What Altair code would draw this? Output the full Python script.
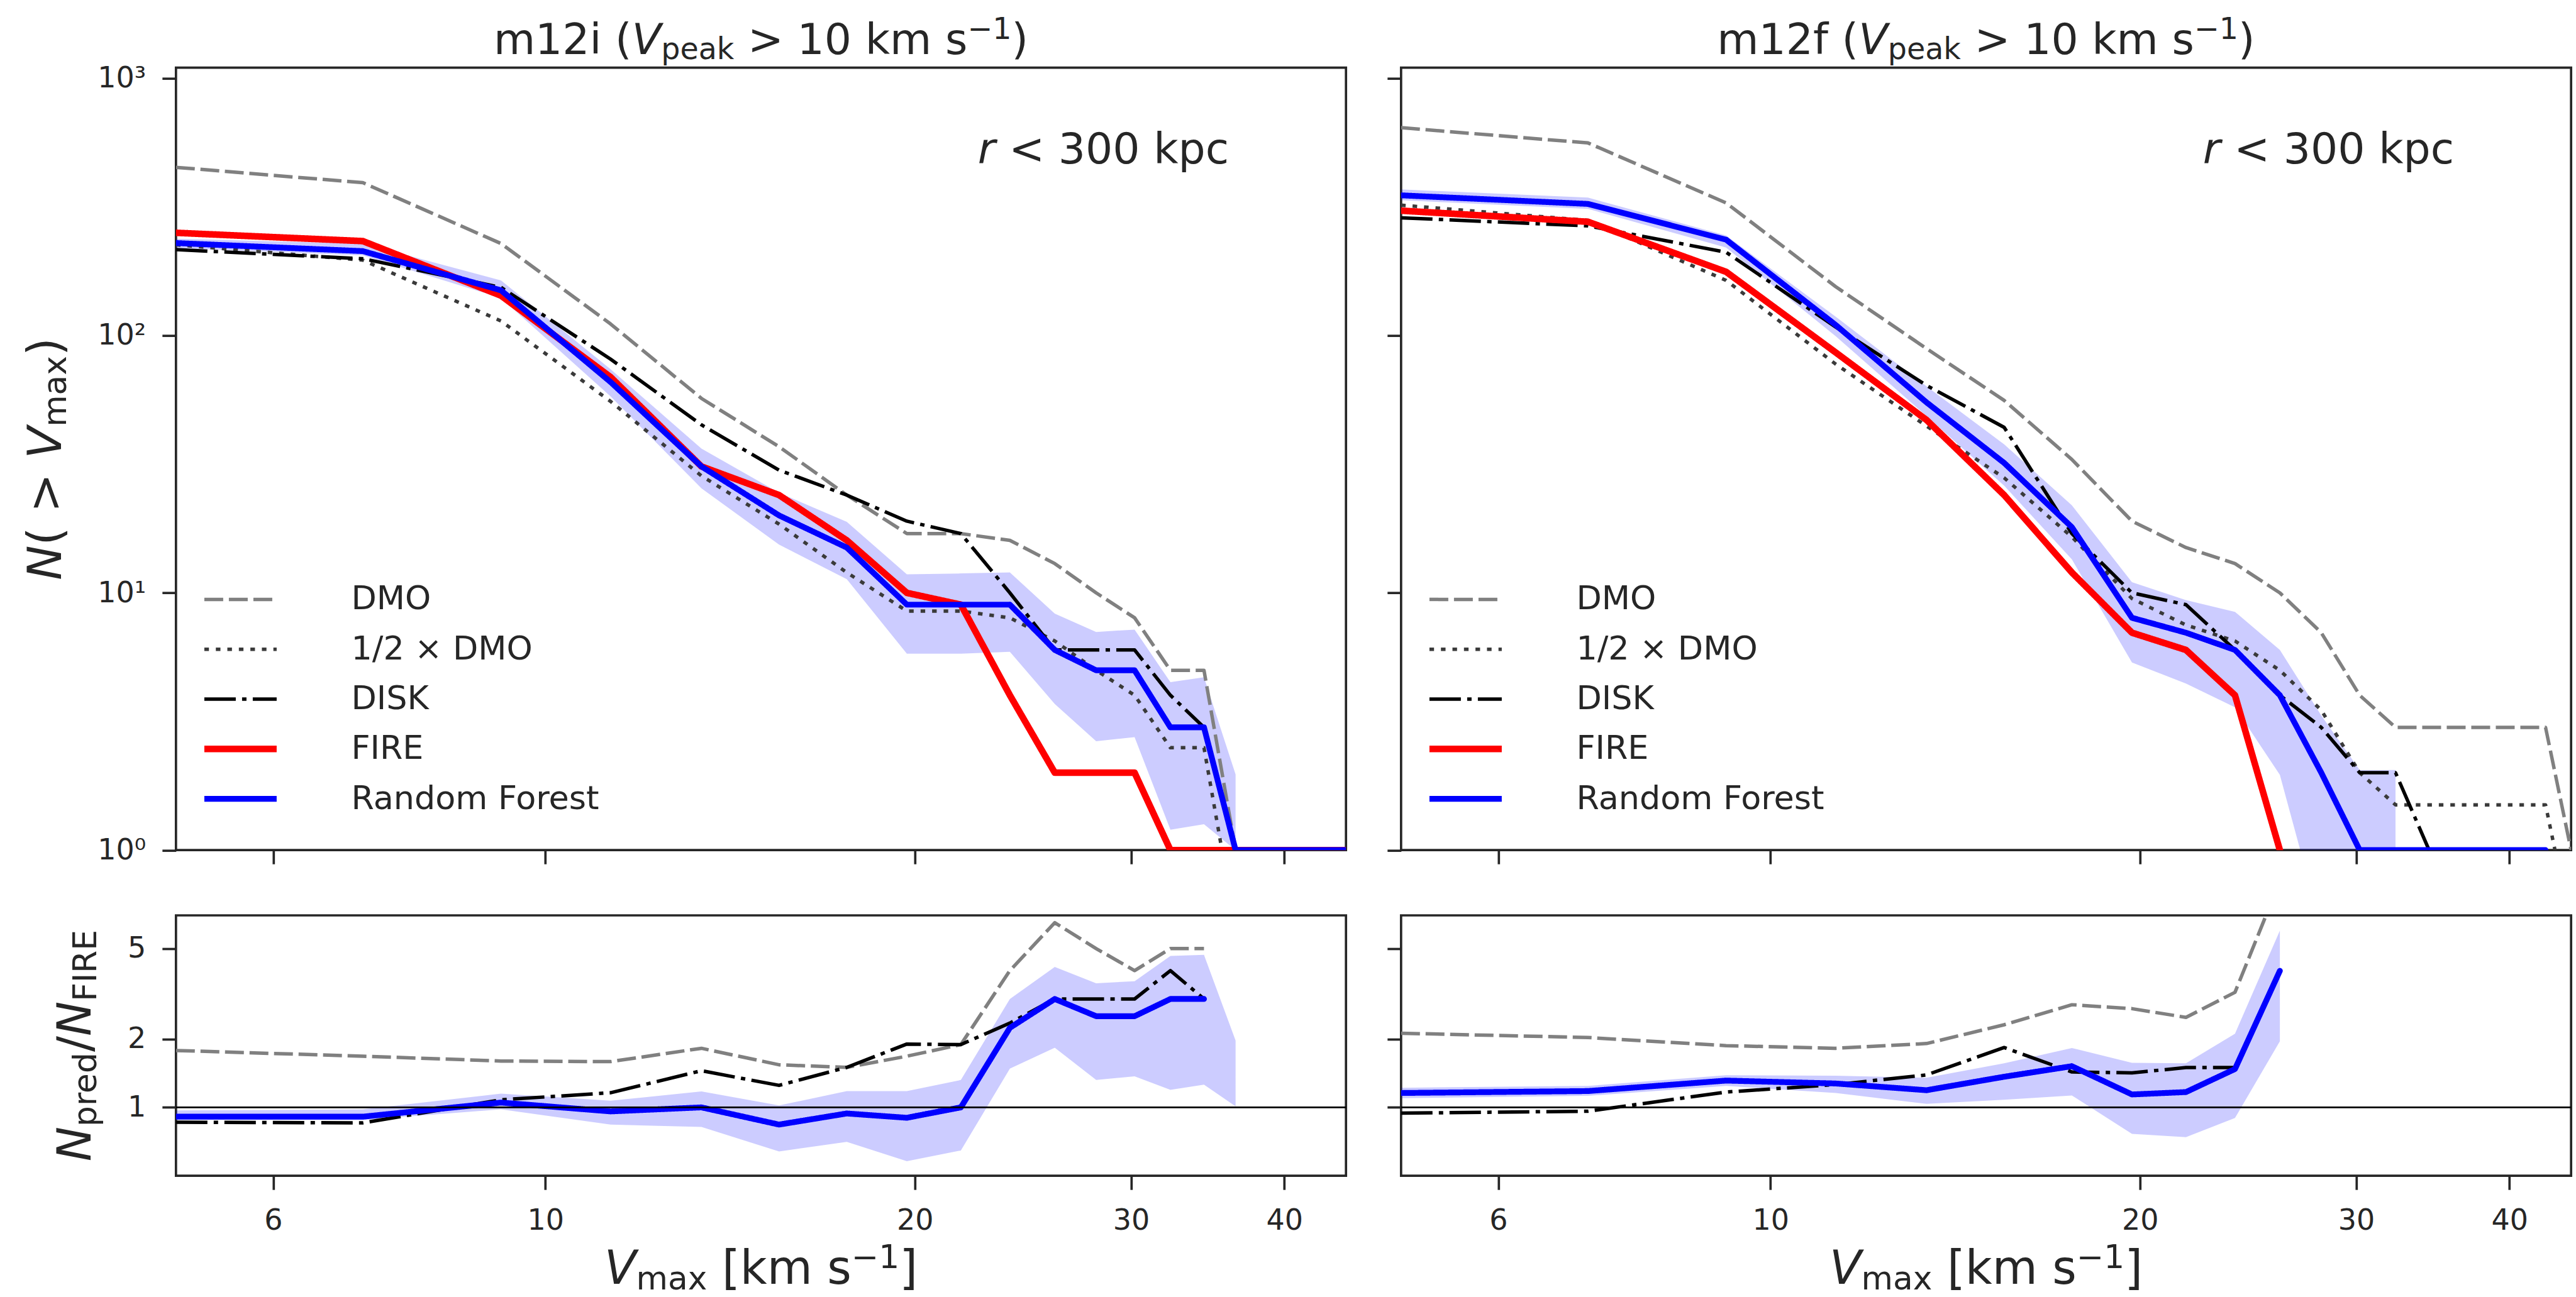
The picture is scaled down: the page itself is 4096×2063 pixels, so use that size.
import altair as alt
import pandas as pd

# ---------------- data ----------------
V = [5.0, 7.1, 9.2, 11.3, 13.4, 15.5, 17.6, 19.7, 21.8, 23.9, 26.0, 28.1, 30.2,
     32.3, 34.4, 36.5, 38.6, 40.7, 42.8, 44.9]

SERIES = ["DMO", "1/2 × DMO", "DISK", "FIRE", "Random Forest"]

# m12i, N(>Vmax)
M12I_DMO = [451, 393, 228, 111, 57, 37, 24, 17, 17, 16, 13, 10, 8, 5, 5, 1]
M12I_HALF = [225.5, 196.5, 114, 55.5, 28.5, 18.5, 12, 8.5, 8.5, 8, 6.5, 5, 4, 2.5, 2.5, 0.5]
M12I_DISK = [216, 199, 154, 81, 45, 30, 24, 19, 17, 10, 6, 6, 6, 4, 3, 1]
M12I_FIRE = [251, 233, 143, 69, 31, 24, 16, 10, 9, 4, 2, 2, 2, 1, 1, 1, 1, 1, 1, 1]
M12I_RF = [229, 213, 150, 66, 31, 20, 15, 9, 9, 9, 6, 5, 5, 3, 3, 1, 1, 1, 1, 1]
M12I_RF_LO = [219, 205, 140, 58, 25.5, 15.4, 11.3, 5.8, 5.8, 5.9, 3.7, 2.65, 2.75, 1.2, 1.26, 1.0]
M12I_RF_HI = [238, 228, 164, 74, 36.4, 24.5, 18.9, 11.8, 11.9, 12, 8.3, 7.05, 7.2, 4.5, 4.7, 1.97]

# m12f, N(>Vmax)
M12F_DMO = [643, 561, 328, 155, 89, 56, 33, 19, 15, 13, 10, 7, 4, 3, 3, 3, 3, 3, 3, 1]
M12F_HALF = [321.5, 280.5, 164, 77.5, 44.5, 28, 16.5, 9.5, 7.5, 6.5, 5, 3.5, 2, 1.5, 1.5, 1.5, 1.5, 1.5, 1.5, 0.5]
M12F_DISK = [287, 267, 211, 108, 64, 44, 17, 10, 9, 6, 4, 3, 2, 2, 1]
M12F_FIRE = [306, 277, 177, 86, 47, 24, 12, 7, 6, 4, 1]
M12F_RF = [351, 325, 236, 110, 55, 32, 18, 8, 7, 6, 4, 2, 1, 1, 1, 1, 1, 1, 1]
M12F_RF_LO = [336, 311, 220, 99.5, 48.7, 26.1, 13.5, 5.36, 4.44, 3.59, 1.96, 0.5, 0.5, 0.5]
M12F_RF_HI = [370, 344, 245, 118.5, 63.5, 37.8, 21.9, 11.0, 9.38, 8.44, 6.0, 3.34, 2.05, 2.05]

# m12i, N_pred / N_FIRE
R12I_DMO = [1.78, 1.68, 1.60, 1.59, 1.82, 1.54, 1.50, 1.68, 1.89, 4.0, 6.5, 5.0, 4.0, 5.0, 5.0]
R12I_DISK = [0.86, 0.855, 1.08, 1.16, 1.45, 1.25, 1.50, 1.90, 1.89, 2.35, 3.0, 3.0, 3.0, 4.0, 3.0]
R12I_RF = [0.91, 0.91, 1.05, 0.96, 1.0, 0.84, 0.94, 0.90, 1.0, 2.24, 3.0, 2.52, 2.52, 3.0, 3.0]
R12I_LO = [0.88, 0.88, 0.98, 0.84, 0.82, 0.64, 0.705, 0.58, 0.646, 1.48, 1.83, 1.32, 1.37, 1.195, 1.26, 1.01]
R12I_HI = [0.97, 0.98, 1.15, 1.07, 1.175, 1.02, 1.18, 1.18, 1.32, 3.0, 4.15, 3.52, 3.59, 4.64, 4.69, 1.97]

# m12f, N_pred / N_FIRE
R12F_DMO = [2.12, 2.03, 1.87, 1.82, 1.91, 2.31, 2.83, 2.72, 2.49, 3.21, 9.9]
R12F_DISK = [0.943, 0.962, 1.168, 1.26, 1.39, 1.834, 1.432, 1.419, 1.497, 1.497]
R12F_RF = [1.157, 1.18, 1.312, 1.274, 1.19, 1.364, 1.518, 1.14, 1.168, 1.475, 3.99]
R12F_LO = [1.098, 1.124, 1.243, 1.157, 1.036, 1.08, 1.128, 0.765, 0.74, 0.898, 1.955]
R12F_HI = [1.22, 1.243, 1.386, 1.378, 1.35, 1.563, 1.826, 1.572, 1.563, 2.11, 6.0]

X_TICKS = [6, 10, 20, 30, 40]
Y_TICKS_TOP = [1, 10, 100, 1000]
Y_TICKS_BOT = [1, 2, 5]

# ---------------- styles ----------------
FONT = "DejaVu Sans"
TXT = "#262626"
COLORS = ["#808080", "#3a3a3a", "#000000", "#ff0000", "#0000ff"]
DASHES = [[30, 9], [7.3, 11], [50, 10, 7, 10], [1, 0], [1, 0]]
WIDTHS = [5.5, 5.5, 5.5, 10.5, 9.2]
CAPS = ["butt", "butt", "butt", "round", "round"]

W = 1860.4
HT = 1244.5
HB = 414.2
F_TITLE = 68
F_AX = 74
F_TICK = 46
F_LEG = 52.4

XS = alt.Scale(type="log", domain=[5, 44.9], nice=False)
YT = alt.Scale(type="log", domain=[1, 1100], nice=False)
YB = alt.Scale(type="log", domain=[0.5, 7], nice=False)

common_axis = dict(grid=False, domain=False, title=None, labelFlush=False, labelOverlap=False)
AX_X_TOP = alt.Axis(values=X_TICKS, labels=False, **common_axis)
AX_X_BOT = alt.Axis(values=X_TICKS, format="d", labelPadding=27, **common_axis)
AX_Y_TOP_L = alt.Axis(values=Y_TICKS_TOP, labelPadding=26,
                      labelExpr="datum.value == 1 ? '10⁰' : datum.value == 10 ? '10¹' : datum.value == 100 ? '10²' : '10³'",
                      **common_axis)
AX_Y_TOP_R = alt.Axis(values=Y_TICKS_TOP, labels=False, **common_axis)
AX_Y_BOT_L = alt.Axis(values=Y_TICKS_BOT, format="d", labelPadding=26, **common_axis)
AX_Y_BOT_R = alt.Axis(values=Y_TICKS_BOT, labels=False, **common_axis)

SYM_W = "datum.value === 'FIRE' ? 10.5 : (datum.value === 'Random Forest' ? 9.2 : 5.5)"
LEG = alt.Legend(orient="none", legendX=76.4, legendY=819.5, direction="vertical", title=None,
                 symbolType="stroke", symbolSize=13225, labelFontSize=F_LEG, labelFont=FONT,
                 labelColor=TXT, labelOffset=149.8, labelLimit=3000, rowPadding=26.3, padding=0,
                 symbolStrokeWidth={"expr": SYM_W})

# DejaVu Sans advance widths (em)
WEM = {" ": 0.3179, "(": 0.3901, ")": 0.3901, "[": 0.3901, "]": 0.3901, "/": 0.3369,
       "<": 0.8379, ">": 0.8379, "−": 0.8379, "a": 0.6128, "c": 0.5498, "d": 0.6348,
       "e": 0.6152, "f": 0.3521, "i": 0.2778, "k": 0.5791, "m": 0.9741, "p": 0.6348,
       "r": 0.4111, "s": 0.5210, "x": 0.5918, "E": 0.6318, "F": 0.5752, "I": 0.2949,
       "N": 0.7480, "R": 0.6948, "V": 0.6841}
for d in "0123456789":
    WEM[d] = 0.6362


def wem(s):
    return sum(WEM.get(ch, 0.6) for ch in s)


def rich(pieces, F, anchor, base, angle=0, align="center"):
    total = sum(wem(t) * F * sc for t, it, sc, sh in pieces)
    pos = -total / 2 if align == "center" else (-total if align == "right" else 0)
    rows = []
    for t, it, sc, sh in pieces:
        fs = F * sc
        lead = len(t) - len(t.lstrip(" "))
        core = t.strip(" ")
        p0 = pos + lead * WEM[" "] * fs
        if angle == 0:
            rows.append({"px": anchor + p0, "py": base - sh * F, "txt": core, "fs": fs, "it": it})
        else:
            rows.append({"px": base - sh * F, "py": anchor - p0, "txt": core, "fs": fs, "it": it})
        pos += wem(t) * fs
    return rows


def text_layers(rows, angle=0):
    out = []
    for it in (False, True):
        sub = [r for r in rows if r["it"] == it]
        if not sub:
            continue
        df = pd.DataFrame(sub)
        out.append(
            alt.Chart(df).mark_text(align="left", baseline="alphabetic", angle=angle, font=FONT,
                                    fontStyle="italic" if it else "normal", color=TXT)
            .encode(x=alt.X("px:Q", scale=None, axis=None),
                    y=alt.Y("py:Q", scale=None, axis=None),
                    text=alt.Text("txt:N"),
                    size=alt.Size("fs:Q", scale=None, legend=None))
        )
    return out


def col_title(name):
    return [(name + " (", False, 1, 0), ("V", True, 1, 0), ("peak", False, 0.7, -0.12),
            (" > 10 km s", False, 1, 0), ("−1", False, 0.7, 0.35), (")", False, 1, 0)]


Y_TITLE_TOP = [("N", True, 1, 0), ("( > ", False, 1, 0), ("V", True, 1, 0),
               ("max", False, 0.7, -0.12), (")", False, 1, 0)]
Y_TITLE_BOT = [("N", True, 1, 0), ("pred", False, 0.7, -0.12), ("/", False, 1, 0),
               ("N", True, 1, 0), ("FIRE", False, 0.7, -0.12)]
X_TITLE = [("V", True, 1, 0), ("max", False, 0.7, -0.12), (" [km s", False, 1, 0),
           ("−1", False, 0.7, 0.35), ("]", False, 1, 0)]
R_TEXT = [("r", True, 1, 0), (" < 300 kpc", False, 1, 0)]


def top_panel(name, dmo, half, disk, fire, rf, lo, hi, left):
    yax = AX_Y_TOP_L if left else AX_Y_TOP_R
    band = alt.Chart(pd.DataFrame({"v": V[:len(lo)], "lo": lo, "hi": hi})).mark_area(
        clip=True, color="#0000ff", opacity=0.2).encode(
        x=alt.X("v:Q", scale=XS, axis=AX_X_TOP),
        y=alt.Y("lo:Q", scale=YT, axis=yax),
        y2="hi:Q")
    layers = [band]
    for i, vals in enumerate([dmo, half, disk, fire, rf]):
        df = pd.DataFrame({"v": V[:len(vals)], "n": vals, "series": SERIES[i]})
        layers.append(
            alt.Chart(df).mark_line(clip=True, strokeJoin="round", strokeCap=CAPS[i],
                                    strokeWidth=WIDTHS[i]).encode(
                x=alt.X("v:Q", scale=XS, axis=AX_X_TOP),
                y=alt.Y("n:Q", scale=YT, axis=yax),
                color=alt.Color("series:N", scale=alt.Scale(domain=SERIES, range=COLORS), legend=LEG),
                strokeDash=alt.StrokeDash("series:N", scale=alt.Scale(domain=SERIES, range=DASHES), legend=LEG),
            ))
    layers += text_layers(rich(col_title(name), F_TITLE, W / 2, -22.1))
    layers += text_layers(rich(R_TEXT, F_TITLE, 0.9 * W, 152, align="right"))
    if left:
        layers += text_layers(rich(Y_TITLE_TOP, F_AX, HT / 2, -183.2, angle=270), angle=270)
    return alt.layer(*layers).properties(width=W, height=HT)


def bot_panel(dmo, disk, rf, lo, hi, left):
    yax = AX_Y_BOT_L if left else AX_Y_BOT_R
    band = alt.Chart(pd.DataFrame({"v": V[:len(lo)], "lo": lo, "hi": hi})).mark_area(
        clip=True, color="#0000ff", opacity=0.2).encode(
        x=alt.X("v:Q", scale=XS, axis=AX_X_BOT),
        y=alt.Y("lo:Q", scale=YB, axis=yax),
        y2="hi:Q")
    layers = [band]
    specs = [(dmo, COLORS[0], DASHES[0], WIDTHS[0], "butt"),
             (disk, COLORS[2], DASHES[2], WIDTHS[2], "butt"),
             (rf, COLORS[4], DASHES[4], WIDTHS[4], "round")]
    for vals, col, dash, wd, cap in specs:
        df = pd.DataFrame({"v": V[:len(vals)], "r": vals})
        layers.append(
            alt.Chart(df).mark_line(clip=True, color=col, strokeDash=dash, strokeWidth=wd,
                                    strokeJoin="round", strokeCap=cap).encode(
                x=alt.X("v:Q", scale=XS, axis=AX_X_BOT),
                y=alt.Y("r:Q", scale=YB, axis=yax)))
    layers.append(
        alt.Chart(pd.DataFrame({"one": [1]})).mark_rule(color="#000000", strokeWidth=2.8).encode(
            y=alt.Y("one:Q", scale=YB, axis=yax)))
    layers += text_layers(rich(X_TITLE, F_AX, W / 2, 586.5))
    if left:
        layers += text_layers(rich(Y_TITLE_BOT, F_AX, HB / 2, -135.7, angle=270), angle=270)
    return alt.layer(*layers).properties(width=W, height=HB)


tl = top_panel("m12i", M12I_DMO, M12I_HALF, M12I_DISK, M12I_FIRE, M12I_RF, M12I_RF_LO, M12I_RF_HI, True)
tr = top_panel("m12f", M12F_DMO, M12F_HALF, M12F_DISK, M12F_FIRE, M12F_RF, M12F_RF_LO, M12F_RF_HI, False)
bl = bot_panel(R12I_DMO, R12I_DISK, R12I_RF, R12I_LO, R12I_HI, True)
br = bot_panel(R12F_DMO, R12F_DISK, R12F_RF, R12F_LO, R12F_HI, False)

chart = (
    alt.concat(tl, tr, bl, br, columns=2, spacing={"row": 103.3, "column": 87}, bounds="flush")
    .resolve_scale(color="independent", strokeDash="independent")
    .resolve_legend(color="independent", strokeDash="independent")
    .properties(padding={"left": 34.8, "top": 21.7, "right": 4, "bottom": 2}, background="white")
    .configure_view(stroke=TXT, strokeWidth=3.7)
    .configure_axis(tickColor=TXT, tickWidth=3.7, tickSize=22, labelFont=FONT,
                    labelFontSize=F_TICK, labelColor=TXT)
)

chart.save("out.html", embed_options={"renderer": "svg", "actions": False})
